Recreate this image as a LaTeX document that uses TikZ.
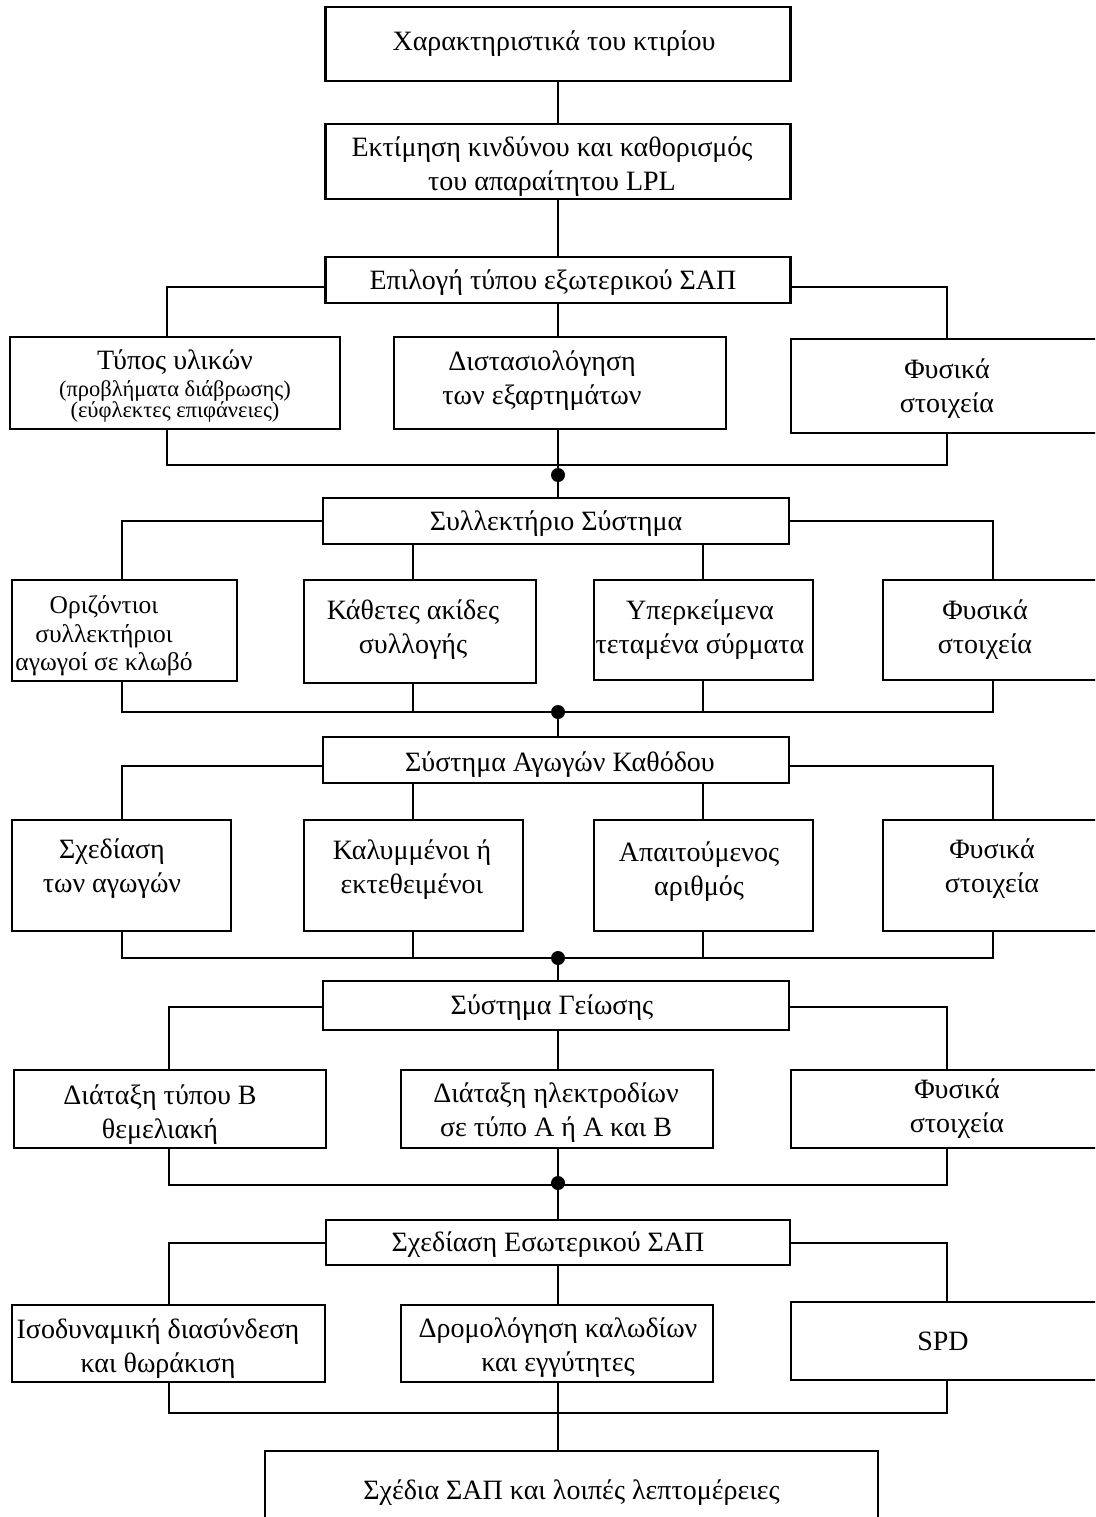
\documentclass[tikz,border=0pt]{standalone}
\usepackage{fontspec}
\setmainfont{Liberation Serif}
\newcommand{\smtxt}{\fontsize{22.5}{21}\selectfont}
\begin{document}
\begin{tikzpicture}[x=1pt,y=-1pt,
  box/.style={draw, line width=2.7pt, fill=white, inner sep=0pt},
  txt/.style={align=center, inner sep=0pt, yshift=-3pt, font=\fontsize{28}{34}\selectfont},
  conn/.style={line width=1.6pt},
  dotn/.style={circle, fill, inner sep=0pt, minimum size=14pt}]
\useasboundingbox (0,0) rectangle (1095,1517);
\clip (0,0) rectangle (1095,1517);
% boxes
\node[box, minimum width=465pt, minimum height=74pt] (b1) at (558,44) {};
\node[txt] (b1t) at (554,41) {Χαρακτηριστικά του κτιρίου};
\node[box, minimum width=465pt, minimum height=75pt] (b2) at (558,161.5) {};
\node[txt] (b2t) at (552,164) {Εκτίμηση κινδύνου και καθορισμός\\του απαραίτητου LPL};
\node[box, minimum width=465pt, minimum height=46pt] (b3) at (558,280) {};
\node[txt] (b3t) at (553,280) {Επιλογή τύπου εξωτερικού ΣΑΠ};
\node[box, minimum width=330pt, minimum height=92pt] (r1a) at (175,383) {};
\node[txt] (r1at) at (175,383) {Τύπος υλικών\\[-7pt]\smtxt (προβλήματα διάβρωσης)\\[-13pt]\smtxt (εύφλεκτες επιφάνειες)};
\node[box, minimum width=332pt, minimum height=92pt] (r1b) at (560,383) {};
\node[txt] (r1bt) at (542,378) {Διστασιολόγηση\\των εξαρτημάτων};
\node[box, minimum width=312pt, minimum height=94pt] (r1c) at (947,386) {};
\node[txt] (r1ct) at (947,386) {Φυσικά\\στοιχεία};
\node[box, minimum width=466pt, minimum height=46pt] (b4) at (556,521) {};
\node[txt] (b4t) at (556,521) {Συλλεκτήριο Σύστημα};
\node[box, minimum width=225pt, minimum height=101pt] (r2a) at (124.5,630.5) {};
\node[txt, font=\fontsize{25.5}{28.5}\selectfont] (r2at) at (104,633) {Οριζόντιοι\\συλλεκτήριοι\\αγωγοί σε κλωβό};
\node[box, minimum width=232pt, minimum height=103pt] (r2b) at (420,631.5) {};
\node[txt] (r2bt) at (413,627) {Κάθετες ακίδες\\συλλογής};
\node[box, minimum width=219pt, minimum height=100pt] (r2c) at (703.5,630) {};
\node[txt] (r2ct) at (700,627) {Υπερκείμενα\\τεταμένα σύρματα};
\node[box, minimum width=220pt, minimum height=100pt] (r2d) at (993,630) {};
\node[txt] (r2dt) at (985,627) {Φυσικά\\στοιχεία};
\node[box, minimum width=466pt, minimum height=46pt] (b5) at (556,760) {};
\node[txt] (b5t) at (560,762) {Σύστημα Αγωγών Καθόδου};
\node[box, minimum width=219pt, minimum height=111pt] (r3a) at (121.5,875.5) {};
\node[txt] (r3at) at (112,866) {Σχεδίαση\\των αγωγών};
\node[box, minimum width=219pt, minimum height=111pt] (r3b) at (413.5,875.5) {};
\node[txt] (r3bt) at (412,867) {Καλυμμένοι ή\\εκτεθειμένοι};
\node[box, minimum width=219pt, minimum height=111pt] (r3c) at (703.5,875.5) {};
\node[txt] (r3ct) at (699,869) {Απαιτούμενος\\αριθμός};
\node[box, minimum width=220pt, minimum height=111pt] (r3d) at (993,875.5) {};
\node[txt] (r3dt) at (992,866) {Φυσικά\\στοιχεία};
\node[box, minimum width=466pt, minimum height=49pt] (b6) at (556,1005.5) {};
\node[txt] (b6t) at (552,1005) {Σύστημα Γείωσης};
\node[box, minimum width=312pt, minimum height=78pt] (r4a) at (170,1109) {};
\node[txt] (r4at) at (160,1112) {Διάταξη τύπου Β\\θεμελιακή};
\node[box, minimum width=312pt, minimum height=78pt] (r4b) at (557,1109) {};
\node[txt] (r4bt) at (556,1110) {Διάταξη ηλεκτροδίων\\σε τύπο Α ή Α και Β};
\node[box, minimum width=312pt, minimum height=78pt] (r4c) at (947,1109) {};
\node[txt] (r4ct) at (957,1106) {Φυσικά\\στοιχεία};
\node[box, minimum width=464pt, minimum height=45pt] (b7) at (558,1242.5) {};
\node[txt] (b7t) at (548,1242) {Σχεδίαση Εσωτερικού ΣΑΠ};
\node[box, minimum width=313pt, minimum height=77pt] (r5a) at (168.5,1343.5) {};
\node[txt] (r5at) at (158,1346) {Ισοδυναμική διασύνδεση\\και θωράκιση};
\node[box, minimum width=312pt, minimum height=77pt] (r5b) at (557,1343.5) {};
\node[txt] (r5bt) at (558,1345) {Δρομολόγηση καλωδίων\\και εγγύτητες};
\node[box, minimum width=312pt, minimum height=78pt] (r5c) at (947,1341) {};
\node[txt] (r5ct) at (943,1338) {SPD};
\node[box, minimum width=613pt, minimum height=79pt] (b8) at (571.5,1490.5) {};
\node[txt] (b8t) at (571.5,1490) {Σχέδια ΣΑΠ και λοιπές λεπτομέρειες};
% coordinates
\coordinate (c1l) at (167,287);
\coordinate (c1r) at (947,287);
\coordinate (s1) at (558,465);
\coordinate (k2a) at (122,521);
\coordinate (k2b) at (413,521);
\coordinate (k2c) at (703,521);
\coordinate (k2d) at (993,521);
\coordinate (s2) at (558,712);
\coordinate (k3a) at (122,766);
\coordinate (k3b) at (413,766);
\coordinate (k3c) at (703,766);
\coordinate (k3d) at (993,766);
\coordinate (s3) at (558,958);
\coordinate (k4l) at (169,1007);
\coordinate (k4r) at (947,1007);
\coordinate (s4) at (558,1185);
\coordinate (k5l) at (169,1243);
\coordinate (k5r) at (947,1243);
\coordinate (s5) at (558,1413);
% connectors
\draw[conn] (b1.south) -- (b1.south |- b2.north);
\draw[conn] (b2.south) -- (b2.south |- b3.north);
\draw[conn] (b3.west |- c1l) -- (c1l) -- (c1l |- r1a.north);
\draw[conn] (b3.east |- c1r) -- (c1r) -- (c1r |- r1c.north);
\draw[conn] (b3.south) -- (b3.south |- r1b.north);
\draw[conn] (c1l |- r1a.south) -- (c1l |- s1) -- (c1r |- s1) -- (c1r |- r1c.south);
\draw[conn] (s1 |- r1b.south) -- (s1) -- (s1 |- b4.north);
\node[dotn] (d1) at (558,475) {};
\draw[conn] (b4.west) -- (k2a) -- (k2a |- r2a.north);
\draw[conn] (b4.east) -- (k2d) -- (k2d |- r2d.north);
\draw[conn] (k2b |- b4.south) -- (k2b |- r2b.north);
\draw[conn] (k2c |- b4.south) -- (k2c |- r2c.north);
\draw[conn] (k2a |- r2a.south) -- (k2a |- s2) -- (k2d |- s2) -- (k2d |- r2d.south);
\draw[conn] (k2b |- r2b.south) -- (k2b |- s2);
\draw[conn] (k2c |- r2c.south) -- (k2c |- s2);
\draw[conn] (s2) -- (s2 |- b5.north);
\node[dotn] (d2) at (s2) {};
\draw[conn] (b5.west |- k3a) -- (k3a) -- (k3a |- r3a.north);
\draw[conn] (b5.east |- k3d) -- (k3d) -- (k3d |- r3d.north);
\draw[conn] (k3b |- b5.south) -- (k3b |- r3b.north);
\draw[conn] (k3c |- b5.south) -- (k3c |- r3c.north);
\draw[conn] (k3a |- r3a.south) -- (k3a |- s3) -- (k3d |- s3) -- (k3d |- r3d.south);
\draw[conn] (k3b |- r3b.south) -- (k3b |- s3);
\draw[conn] (k3c |- r3c.south) -- (k3c |- s3);
\draw[conn] (s3) -- (s3 |- b6.north);
\node[dotn] (d3) at (s3) {};
\draw[conn] (b6.west |- k4l) -- (k4l) -- (k4l |- r4a.north);
\draw[conn] (b6.east |- k4r) -- (k4r) -- (k4r |- r4c.north);
\draw[conn] (s4 |- b6.south) -- (s4 |- r4b.north);
\draw[conn] (k4l |- r4a.south) -- (k4l |- s4) -- (k4r |- s4) -- (k4r |- r4c.south);
\draw[conn] (s4 |- r4b.south) -- (s4) -- (s4 |- b7.north);
\node[dotn] (d4) at (558,1183) {};
\draw[conn] (b7.west |- k5l) -- (k5l) -- (k5l |- r5a.north);
\draw[conn] (b7.east |- k5r) -- (k5r) -- (k5r |- r5c.north);
\draw[conn] (s5 |- b7.south) -- (s5 |- r5b.north);
\draw[conn] (k5l |- r5a.south) -- (k5l |- s5) -- (k5r |- s5) -- (k5r |- r5c.south);
\draw[conn] (s5 |- r5b.south) -- (s5) -- (s5 |- b8.north);
\end{tikzpicture}
\end{document}
